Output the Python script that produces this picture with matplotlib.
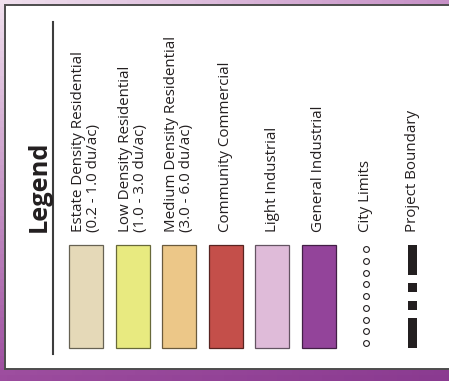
import numpy as np
import matplotlib.pyplot as plt
from matplotlib.patches import Rectangle
from matplotlib.colors import to_rgb

# === Legend content ===
categories = [
    "Estate Density Residential\n(0.2 - 1.0 du/ac)",
    "Low Density Residential\n(1.0 - 3.0 du/ac)",
    "Medium Density Residential\n(3.0 - 6.0 du/ac)",
    "Community Commercial",
    "Light Industrial",
    "General Industrial",
]
swatch_colors = ["#e5d9b8", "#e8ea80", "#ecc788", "#c44f4a", "#dfbbd9", "#93449a"]
line_labels = ["City Limits", "Project Boundary"]
city_limit_dots = 9
boundary_pattern = [30, 8, 9, 9, 9, 8, 30]  # on/off lengths (px)

W, H = 449, 381
TEXT = "#231f20"
FS = 10.9

fig = plt.figure(figsize=(W / 100, H / 100), dpi=100)
ax = fig.add_axes([0, 0, 1, 1])
ax.set_xlim(0, W)
ax.set_ylim(H, 0)
ax.axis("off")

# === purple backdrop ===
tl, tr = np.array(to_rgb("#f0e0ee")), np.array(to_rgb("#c690c6"))
bl, br = np.array(to_rgb("#9c4c9e")), np.array(to_rgb("#8a3a90"))
u = np.linspace(0, 1, 60)[None, :, None]
v = np.linspace(0, 1, 60)[:, None, None]
grad = (1 - v) * ((1 - u) * tl + u * tr) + v * ((1 - u) * bl + u * br)
ax.imshow(grad, extent=[0, W, H, 0], aspect="auto", zorder=0)

# === white legend box ===
ax.add_patch(Rectangle((5, 5), 470, 364, facecolor="white",
                       edgecolor="#4d4d4d", lw=1.4, zorder=1))
ax.plot([53, 53], [22, 354], color="#3d3d3d", lw=1.5, zorder=2)

ax.text(39, 232, "Legend", rotation=90, rotation_mode="anchor",
        ha="left", va="center", fontsize=18.3, fontweight="bold",
        family="Open Sans", color=TEXT, zorder=3)

x0, step = 86, 46.6
sw_w, sw_top, sw_bot = 34, 245, 348
label_base = 232

for i, (lab, col) in enumerate(zip(categories, swatch_colors)):
    xc = x0 + step * i
    edge = tuple(c * 0.45 for c in to_rgb(col))
    ax.add_patch(Rectangle((xc - sw_w / 2, sw_top), sw_w, sw_bot - sw_top,
                           facecolor=col, edgecolor=edge, lw=0.9, zorder=2))
    ax.text(xc, label_base, lab, rotation=90, rotation_mode="anchor",
            ha="left", va="center", fontsize=FS, family="Open Sans",
            color=TEXT, linespacing=1.0, zorder=3)

# City limits: row of small circles
xc = x0 + step * 6
ys = np.linspace(249, 343, city_limit_dots)
ax.plot([xc] * len(ys), ys, "o", ms=4.2, mfc="white", mec=TEXT, mew=0.8, zorder=3)
ax.text(xc, label_base, line_labels[0], rotation=90, rotation_mode="anchor",
        ha="left", va="center", fontsize=FS, family="Open Sans", color=TEXT, zorder=3)

# Project boundary: dash-dot-dot bar
xc = x0 + step * 7
y = sw_top
for k, seg in enumerate(boundary_pattern):
    if k % 2 == 0:
        ax.add_patch(Rectangle((xc - 4.5, y), 9, seg, facecolor=TEXT, lw=0, zorder=3))
    y += seg
ax.text(xc, label_base, line_labels[1], rotation=90, rotation_mode="anchor",
        ha="left", va="center", fontsize=FS, family="Open Sans", color=TEXT, zorder=3)

fig.savefig("out.png", dpi=100)
